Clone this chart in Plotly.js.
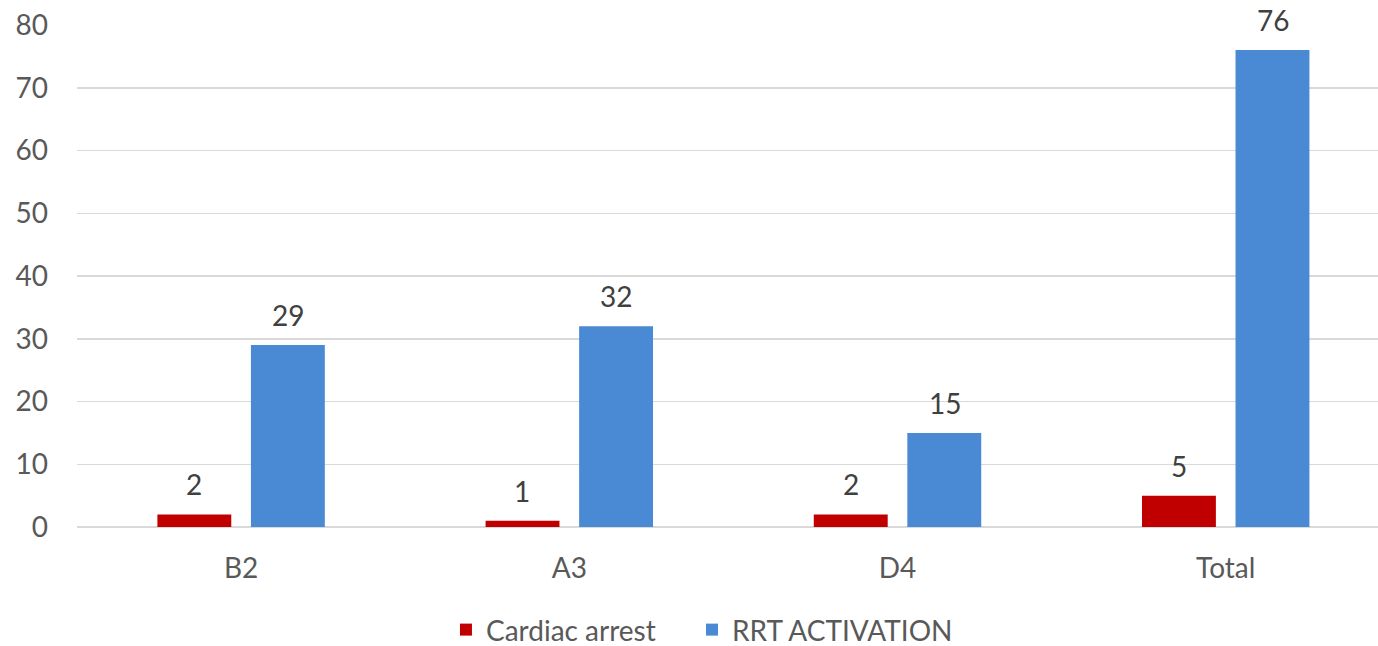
<!DOCTYPE html>
<html>
<head>
<meta charset="utf-8">
<script src="https://cdn.plot.ly/plotly-3.0.1.min.js"></script>
<style>html,body{margin:0;padding:0;background:#fff;}#chart{width:1378px;height:646px;}</style>
</head>
<body>
<div id="chart"></div>
<script>
const categories = ["B2", "A3", "D4", "Total"];
const cardiacArrest = [2, 1, 2, 5];
const rrtActivation = [29, 32, 15, 76];
const seriesNames = ["Cardiac arrest", "RRT ACTIVATION"];
const yTicks = [0, 10, 20, 30, 40, 50, 60, 70, 80];

const FONT = "Lato, 'Open Sans', sans-serif";
const FS = 28;

const traces = [
  {type: "bar", name: seriesNames[0], x: categories, y: cardiacArrest, marker: {color: "#c00000"}, legend: "legend"},
  {type: "bar", name: seriesNames[1], x: categories, y: rrtActivation, marker: {color: "#4a89d3"}, legend: "legend2"}
];

const annotations = [];
[cardiacArrest, rrtActivation].forEach((vals, s) => {
  vals.forEach((v, i) => {
    annotations.push({
      x: categories[i], y: v, xref: "x", yref: "y", text: String(v), showarrow: false,
      xshift: s === 0 ? -47 : 47, yshift: 30, yanchor: "middle",
      font: {family: FONT, size: FS, color: "#404040"}
    });
  });
});

const legendBase = {orientation: "h", xanchor: "left", y: -0.205, yanchor: "middle",
  font: {family: FONT, size: FS, color: "#595959"}, itemwidth: 30, bgcolor: "rgba(0,0,0,0)"};

const layout = {
  width: 1378, height: 646,
  margin: {l: 77, r: 0, t: 25, b: 119, autoexpand: false},
  paper_bgcolor: "#fff", plot_bgcolor: "#fff",
  barmode: "group", bargap: 0.43, bargroupgap: 0.21,
  font: {family: FONT, size: FS, color: "#595959"},
  showlegend: true,
  legend: Object.assign({}, legendBase, {x: 0.2836}),
  legend2: Object.assign({}, legendBase, {x: 0.4727}),
  annotations: annotations,
  xaxis: {type: "category", range: [-0.5, 3.464], showgrid: false, zeroline: false,
          showline: false, ticks: "", ticklabelstandoff: 22, automargin: false,
          tickfont: {family: FONT, size: FS, color: "#595959"}},
  yaxis: {range: [0, 80], tickvals: yTicks, ticktext: yTicks.map(String),
          showgrid: true, gridcolor: "#d9d9d9", gridwidth: 1.5,
          zeroline: true, zerolinecolor: "#d9d9d9", zerolinewidth: 1.5,
          showline: false, ticks: "", ticklabelstandoff: 28, automargin: false,
          tickfont: {family: FONT, size: FS, color: "#595959"}}
};

Plotly.newPlot("chart", traces, layout, {displayModeBar: false, staticPlot: true});
</script>
</body>
</html>
